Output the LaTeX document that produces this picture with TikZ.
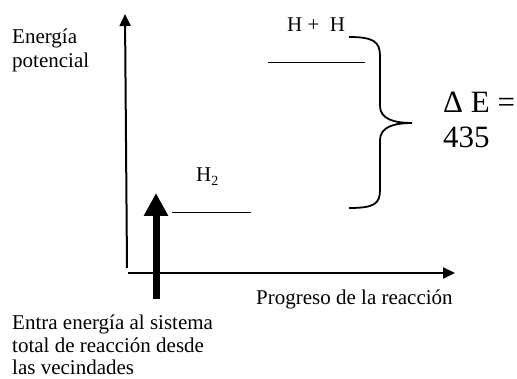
\documentclass[tikz,border=0pt]{standalone}
\usepackage{fontspec}
\setmainfont{Liberation Serif}
\usetikzlibrary{arrows.meta}
\begin{document}
\begin{tikzpicture}[x=1pt,y=-1pt,
  lbl/.style={inner sep=0pt,anchor=base west,font=\fontsize{21}{24}\selectfont},
  big/.style={inner sep=0pt,anchor=base west,font=\fontsize{31}{35}\selectfont},
  axis/.style={line width=2pt,-{Triangle[length=12pt,width=11pt]}},
  lvl/.style={line width=0.8pt}]
\useasboundingbox (0,0) rectangle (517,379);
% axes
\coordinate (ybot) at (127,268);
\coordinate (ytop) at (125,14);
\coordinate (xleft) at (128,273);
\coordinate (xright) at (455,273);
\draw[axis] (ybot) -- (ytop);
\draw[axis] (xleft) -- (xright);
% thick arrow
\coordinate (tb) at (156,299);
\coordinate (tt) at (156,193);
\draw[line width=7pt,-{Triangle[length=23pt,width=23pt]}] (tb) -- (tt);
% levels
\coordinate (h2a) at (172,212);
\coordinate (h2b) at (251,212);
\draw[lvl] (h2a) -- (h2b);
\coordinate (hha) at (268,62);
\coordinate (hhb) at (365,62);
\draw[lvl] (hha) -- (hhb);
% brace
\coordinate (bt) at (349,37);
\coordinate (bm) at (412,123);
\coordinate (bb) at (349,208);
\draw[line width=1.8pt] (bt) .. controls (374,37) and (380,42) .. (380,56) -- (380,106)
  .. controls (380,119) and (394,123) .. (bm);
\draw[line width=1.8pt] (bm) .. controls (394,123) and (380,127) .. (380,140) -- (380,190)
  .. controls (380,204) and (374,208) .. (bb);
% texts
\node[lbl] (ep1) at (12,44) {Energía};
\node[lbl] (ep2) at (12,68) {potencial};
\node[lbl] (hh) at (287,32) {H +\ \ H};
\node[lbl] (h2) at (196,182) {H\textsubscript{\fontsize{14}{14}\selectfont 2}};
\node[big] (de1) at (443,113) {Δ E =};
\node[big] (de2) at (443,148) {435};
\node[lbl] (prog) at (256,305) {Progreso de la reacción};
\node[lbl] (en1) at (12,330) {Entra energía al sistema};
\node[lbl] (en2) at (12,353) {total de reacción desde};
\node[lbl] (en3) at (12,375) {las vecindades};
\end{tikzpicture}
\end{document}
